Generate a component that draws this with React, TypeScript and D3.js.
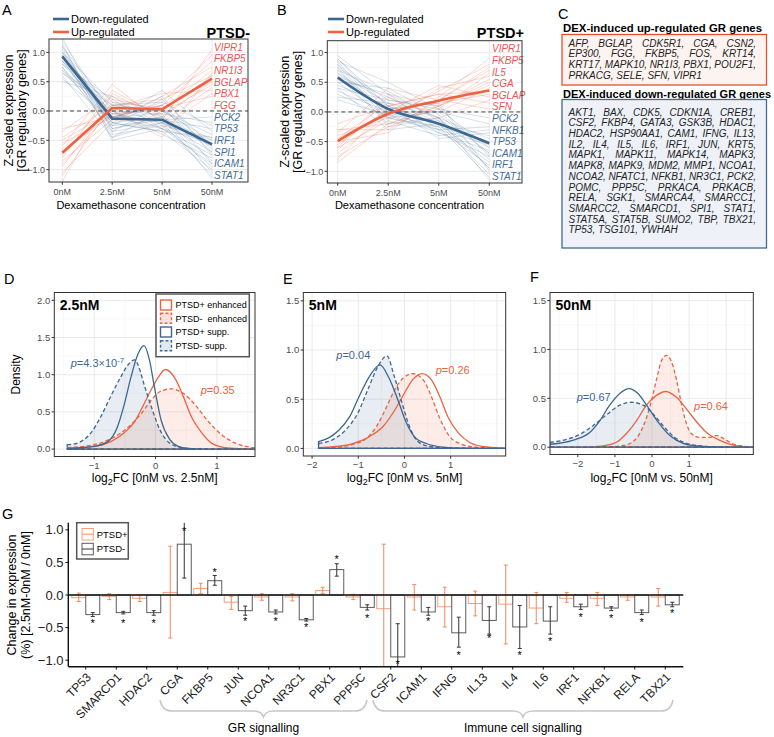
import React from "react";
import * as d3 from "d3";

const FONT = "'Liberation Sans', Arial, Helvetica, sans-serif";
const BLUE = "#3c6792";
const RED = "#ee6241";
const BLUE_LABEL = "#436d98";
const RED_LABEL = "#ec5458";
const GRID = "#e8e8e8";
const GRID_MINOR = "#f3f3f3";
const AXIS_TXT = "#4d4d4d";

// ---------- panels A / B ----------
const doses = ["0nM", "2.5nM", "5nM", "50nM"];

const aDownMean = [0.93, -0.13, -0.15, -0.57];
const aUpMean = [-0.71, 0.05, 0.03, 0.55];
const aUpGenes = ["VIPR1", "FKBP5", "NR1I3", "BGLAP", "PBX1", "FGG"];
const aDownGenes = ["PCK2", "TP53", "IRF1", "SPI1", "ICAM1", "STAT1"];
const aUpThin = [
  [-0.35, 0.25, -0.05, 0.45],
  [-0.45, 0.1, 0.2, 0.6],
  [-0.55, -0.1, 0.1, 0.85],
  [-0.6, 0.45, -0.2, 0.4],
  [-0.65, 0.2, 0.0, 0.7],
  [-0.7, -0.05, 0.05, 0.55],
  [-0.75, 0.05, 0.3, 0.35],
  [-0.8, 0.35, -0.1, 0.5],
  [-0.85, -0.15, 0.15, 0.95],
  [-0.9, 0.0, -0.45, 0.65],
  [-0.95, 0.15, 0.05, 0.25],
  [-1.05, -0.2, 0.25, 0.75],
  [-1.2, 0.3, -0.15, 1.05],
  [-0.5, 0.0, -0.3, 0.3],
  [-0.3, -0.1, 0.1, 0.5],
  [-1.1, 0.1, 0.0, 0.6],
];
const aDownThin = [
  [1.25, -0.35, -0.2, -1.1],
  [1.2, -0.1, 0.1, -0.9],
  [1.15, -0.5, -0.3, -0.75],
  [1.1, 0.0, -0.05, -1.05],
  [1.05, -0.25, 0.2, -0.6],
  [1.0, -0.2, -0.35, -0.45],
  [1.0, 0.15, -0.1, -0.85],
  [0.95, -0.3, -0.15, -0.3],
  [0.95, -0.05, 0.05, -0.7],
  [0.9, -0.4, -0.25, -0.95],
  [0.9, 0.05, -0.2, -0.5],
  [0.85, -0.15, 0.35, -0.35],
  [0.85, -0.2, -0.1, -1.15],
  [0.8, 0.2, -0.3, -0.55],
  [0.8, -0.1, -0.05, -0.2],
  [0.75, -0.35, 0.1, -0.65],
  [0.7, 0.0, -0.4, -0.8],
  [0.7, -0.25, -0.15, -0.1],
  [0.65, 0.1, 0.0, -0.4],
  [0.6, -0.45, -0.2, -0.6],
  [0.55, -0.15, 0.25, -0.75],
  [0.5, 0.25, -0.25, -0.45],
  [1.1, -0.3, -0.1, -0.55],
  [1.0, -0.1, -0.3, -0.9],
  [0.85, 0.1, 0.15, -0.25],
  [0.75, -0.2, -0.35, -1.0],
  [0.95, -0.45, 0.0, -0.5],
  [0.65, -0.05, -0.2, -0.7],
];

const bDownMean = [0.58, 0.05, -0.2, -0.53];
const bUpMean = [-0.49, -0.03, 0.19, 0.36];
const bUpGenes = ["VIPR1", "FKBP5", "IL5", "CGA", "BGLAP", "SFN"];
const bDownGenes = ["PCK2", "NFKB1", "TP53", "ICAM1", "IRF1", "STAT1"];
const bUpThin = [
  [-0.2, 0.1, 0.3, 0.15],
  [-0.3, -0.2, 0.1, 0.55],
  [-0.35, 0.4, 0.2, 0.05],
  [-0.4, -0.1, 0.35, 0.8],
  [-0.45, 0.15, 0.0, 0.4],
  [-0.5, -0.35, 0.25, 0.9],
  [-0.55, 0.05, 0.15, 0.3],
  [-0.6, -0.15, 0.4, 0.6],
  [-0.65, 0.25, -0.1, 0.2],
  [-0.7, -0.05, 0.2, 0.7],
  [-0.75, -0.25, 0.1, 0.45],
  [-0.8, 0.1, 0.3, 0.35],
  [-0.85, -0.2, 0.05, 0.65],
  [-0.45, 0.0, 0.45, 0.25],
  [-0.6, 0.3, 0.1, 0.5],
  [-0.3, -0.3, 0.2, 0.75],
];
const bDownThin = [
  [0.95, 0.3, -0.1, -1.15],
  [0.9, 0.0, -0.3, -0.9],
  [0.85, 0.5, 0.05, -0.6],
  [0.8, 0.1, -0.2, -1.05],
  [0.8, -0.15, -0.4, -0.3],
  [0.75, 0.2, 0.1, -0.75],
  [0.7, -0.05, -0.25, -0.5],
  [0.7, 0.35, -0.15, -0.95],
  [0.65, 0.0, 0.0, -0.2],
  [0.65, 0.15, -0.35, -0.65],
  [0.6, -0.2, -0.1, -0.8],
  [0.6, 0.25, -0.2, -0.4],
  [0.55, 0.05, 0.15, -1.0],
  [0.5, -0.1, -0.3, -0.55],
  [0.5, 0.4, -0.05, -0.7],
  [0.45, 0.1, -0.45, -0.35],
  [0.4, -0.3, -0.2, -0.85],
  [0.4, 0.2, 0.05, -0.1],
  [0.35, 0.0, -0.15, -0.6],
  [0.3, -0.1, -0.25, -1.1],
  [0.25, 0.15, -0.1, -0.45],
  [0.2, -0.05, -0.35, -0.75],
  [0.9, 0.1, -0.2, -0.5],
  [0.75, -0.25, -0.1, -0.95],
  [0.55, 0.3, -0.3, -0.25],
  [0.85, -0.1, 0.0, -0.7],
];

// ---------- panel C ----------
const upGeneRows = [
  "AFP, BGLAP, CDK5R1, CGA, CSN2,",
  "EP300, FGG, FKBP5, FOS, KRT14,",
  "KRT17, MAPK10, NR1I3, PBX1, POU2F1,",
  "PRKACG, SELE, SFN, VIPR1",
];
const downGeneRows = [
  "AKT1, BAX, CDK5, CDKN1A, CREB1,",
  "CSF2, FKBP4, GATA3, GSK3B, HDAC1,",
  "HDAC2, HSP90AA1, CAM1, IFNG, IL13,",
  "IL2, IL4, IL5, IL6, IRF1, JUN, KRT5,",
  "MAPK1, MAPK11, MAPK14, MAPK3,",
  "MAPK8, MAPK9, MDM2, MMP1, NCOA1,",
  "NCOA2, NFATC1, NFKB1, NR3C1, PCK2,",
  "POMC, PPP5C, PRKACA, PRKACB,",
  "RELA, SGK1, SMARCA4, SMARCC1,",
  "SMARCC2, SMARCD1, SPI1, STAT1,",
  "STAT5A, STAT5B, SUMO2, TBP, TBX21,",
  "TP53, TSG101, YWHAH",
];

// ---------- panels D / E / F (density curves, x = log2FC, y = density) ----------
type Pt = [number, number];
const dPlusUp: Pt[] = [[-1.44, 0.01], [-1.0, 0.036], [-0.73, 0.1], [-0.51, 0.22], [-0.34, 0.37], [-0.21, 0.57], [-0.07, 0.8], [0.04, 0.96], [0.16, 1.07], [0.31, 0.96], [0.45, 0.71], [0.58, 0.44], [0.75, 0.22], [0.91, 0.08], [1.13, 0.02], [1.4, 0.005], [1.62, 0]];
const dMinusUp: Pt[] = [[-1.44, 0.02], [-1.0, 0.06], [-0.75, 0.13], [-0.56, 0.22], [-0.4, 0.33], [-0.23, 0.48], [-0.07, 0.66], [0.09, 0.78], [0.26, 0.81], [0.45, 0.75], [0.64, 0.6], [0.86, 0.37], [1.08, 0.19], [1.3, 0.08], [1.51, 0.03], [1.62, 0.015]];
const dPlusDown: Pt[] = [[-1.44, 0.01], [-1.33, 0.013], [-1.0, 0.036], [-0.78, 0.1], [-0.62, 0.3], [-0.51, 0.6], [-0.4, 0.97], [-0.29, 1.27], [-0.19, 1.39], [-0.1, 1.2], [-0.02, 0.84], [0.09, 0.39], [0.23, 0.13], [0.37, 0.036], [0.53, 0.01], [0.8, 0], [1.62, 0]];
const dMinusDown: Pt[] = [[-1.44, 0.06], [-1.41, 0.06], [-1.22, 0.1], [-1.05, 0.22], [-0.89, 0.44], [-0.73, 0.71], [-0.56, 0.98], [-0.45, 1.13], [-0.34, 1.2], [-0.27, 1.1], [-0.21, 0.93], [-0.07, 0.57], [0.07, 0.26], [0.23, 0.08], [0.42, 0.02], [0.64, 0.005], [1.62, 0]];

const ePlusUp: Pt[] = [[-1.86, 0.007], [-1.48, 0.02], [-1.12, 0.05], [-0.76, 0.12], [-0.47, 0.22], [-0.25, 0.36], [-0.04, 0.53], [0.18, 0.7], [0.38, 0.76], [0.58, 0.7], [0.76, 0.53], [0.94, 0.32], [1.16, 0.16], [1.41, 0.06], [1.7, 0.02], [2.13, 0.003], [2.19, 0.002]];
const eMinusUp: Pt[] = [[-1.86, 0.003], [-1.48, 0.013], [-1.12, 0.04], [-0.83, 0.1], [-0.61, 0.22], [-0.4, 0.41], [-0.22, 0.59], [-0.04, 0.71], [0.18, 0.76], [0.4, 0.7], [0.58, 0.53], [0.76, 0.31], [0.98, 0.12], [1.19, 0.05], [1.55, 0.013], [1.99, 0.003], [2.19, 0.001]];
const ePlusDown: Pt[] = [[-1.86, 0.07], [-1.63, 0.11], [-1.41, 0.19], [-1.19, 0.32], [-0.98, 0.53], [-0.76, 0.73], [-0.53, 0.85], [-0.33, 0.71], [-0.14, 0.49], [0.04, 0.26], [0.25, 0.1], [0.47, 0.05], [0.83, 0.014], [1.27, 0.003], [2.19, 0]];
const eMinusDown: Pt[] = [[-1.86, 0.05], [-1.55, 0.09], [-1.27, 0.19], [-1.01, 0.36], [-0.8, 0.59], [-0.58, 0.83], [-0.38, 0.94], [-0.22, 0.73], [-0.07, 0.49], [0.11, 0.22], [0.29, 0.07], [0.54, 0.02], [0.98, 0.003], [2.19, 0]];

const fPlusUp: Pt[] = [[-2.75, 0], [-1.86, 0.001], [-1.32, 0.014], [-0.96, 0.05], [-0.69, 0.14], [-0.42, 0.27], [-0.15, 0.43], [0.12, 0.53], [0.37, 0.57], [0.66, 0.51], [0.93, 0.39], [1.2, 0.26], [1.47, 0.15], [1.83, 0.07], [2.19, 0.02], [2.55, 0.003], [2.73, 0]];
const fMinusUp: Pt[] = [[-2.75, 0], [-1.23, 0.001], [-0.78, 0.017], [-0.47, 0.07], [-0.24, 0.21], [-0.06, 0.41], [0.12, 0.69], [0.25, 0.88], [0.39, 0.94], [0.52, 0.88], [0.66, 0.69], [0.79, 0.45], [0.93, 0.24], [1.06, 0.14], [1.29, 0.1], [1.56, 0.1], [1.74, 0.12], [1.92, 0.09], [2.14, 0.04], [2.46, 0.01], [2.73, 0]];
const fPlusDown: Pt[] = [[-2.75, 0.03], [-2.5, 0.04], [-2.05, 0.08], [-1.68, 0.15], [-1.41, 0.27], [-1.14, 0.43], [-0.87, 0.55], [-0.62, 0.6], [-0.38, 0.55], [-0.11, 0.41], [0.16, 0.26], [0.48, 0.12], [0.84, 0.04], [1.29, 0.01], [1.74, 0.002], [2.73, 0]];
const fMinusDown: Pt[] = [[-2.75, 0.05], [-2.41, 0.07], [-1.95, 0.13], [-1.59, 0.22], [-1.23, 0.33], [-0.87, 0.43], [-0.56, 0.46], [-0.24, 0.43], [0.03, 0.34], [0.3, 0.22], [0.61, 0.1], [0.93, 0.04], [1.38, 0.01], [1.92, 0.002], [2.73, 0]];

// ---------- panel G ----------
const gGenes = ["TP53", "SMARCD1", "HDAC2", "CGA", "FKBP5", "JUN", "NCOA1", "NR3C1", "PBX1", "PPP5C", "CSF2", "ICAM1", "IFNG", "IL13", "IL4", "IL6", "IRF1", "NFKB1", "RELA", "TBX21"];
const plusVal = [-0.04, -0.02, -0.05, 0.04, 0.1, -0.11, -0.03, -0.03, 0.07, -0.03, -0.21, -0.03, -0.18, -0.13, -0.14, -0.2, -0.05, -0.05, -0.03, -0.03];
const plusLo = [-0.1, -0.07, -0.1, -0.66, 0.02, -0.22, -0.08, -0.09, 0.02, -0.07, -1.15, -0.23, -0.49, -0.32, -0.75, -0.44, -0.11, -0.16, -0.08, -0.17];
const plusHi = [0.03, 0.02, 0.0, 0.75, 0.18, -0.02, 0.02, 0.02, 0.12, 0.01, 0.78, 0.16, 0.12, 0.06, 0.46, 0.04, 0.04, 0.04, 0.0, 0.1];
const minusVal = [-0.3, -0.27, -0.27, 0.78, 0.22, -0.24, -0.26, -0.38, 0.39, -0.19, -0.95, -0.26, -0.58, -0.39, -0.49, -0.4, -0.18, -0.2, -0.27, -0.15];
const minusLo = [-0.33, -0.29, -0.31, 0.26, 0.15, -0.31, -0.29, -0.4, 0.29, -0.23, -1.15, -0.31, -0.8, -0.6, -0.82, -0.6, -0.22, -0.24, -0.3, -0.18];
const minusHi = [-0.27, -0.25, -0.24, 1.15, 0.3, -0.17, -0.23, -0.36, 0.48, -0.15, -0.44, -0.19, -0.34, -0.18, -0.16, -0.18, -0.14, -0.18, -0.23, -0.11];
const starY = [-0.41, -0.41, -0.41, 1.0, 0.38, -0.37, -0.37, -0.47, 0.58, -0.33, -1.03, -0.37, -0.89, -0.64, -0.89, -0.68, -0.31, -0.33, -0.39, -0.26];
const gTicks = [-1, -0.5, 0, 0.5, 1];

// ---------------------------------------------------------------------------

function TrendPanel(p: any) {
  const x = d3.scalePoint<string>().domain(doses).range(p.xr);
  const y = d3.scaleLinear().domain(p.yd).range([p.bottom, p.top]);
  const straight = d3.line<number>().x((_, i) => x(doses[i]) as number).y(d => y(d));
  const smooth = d3.line<number>().x((_, i) => x(doses[i]) as number).y(d => y(d)).curve(d3.curveMonotoneX);
  const mainLine = p.smooth ? smooth : straight;
  const genes = [...p.upGenes, ...p.downGenes];
  const gy = d3.scalePoint<number>().domain(d3.range(genes.length)).range([p.top + 8, p.bottom - 6.5]);
  const w = p.right - p.left;
  const h = p.bottom - p.top;
  const clip = "clip-" + p.id;
  const midY = (p.top + p.bottom) / 2;
  return (
    <g>
      <defs>
        <clipPath id={clip}><rect x={p.left} y={p.top} width={w} height={h} /></clipPath>
      </defs>
      <text x={p.letterX} y={15} fontSize={14.5}>{p.letter}</text>
      {/* legend */}
      <line x1={p.legX} x2={p.legX + 16} y1={19} y2={19} stroke={BLUE} strokeWidth={2.6} />
      <text x={p.legX + 18} y={23} fontSize={11}>Down-regulated</text>
      <line x1={p.legX} x2={p.legX + 16} y1={32} y2={32} stroke={RED} strokeWidth={2.6} />
      <text x={p.legX + 18} y={36} fontSize={11}>Up-regulated</text>
      <text x={p.right + 2} y={37.5} fontSize={14.5} fontWeight="bold" textAnchor="end">{p.title}</text>

      <rect x={p.left} y={p.top} width={w} height={h} fill="#fff" />
      <g clipPath={`url(#${clip})`}>
        {[-0.75, -0.25, 0.25, 0.75].map(v => (
          <line key={"mi" + v} x1={p.left} x2={p.right} y1={y(v)} y2={y(v)} stroke={GRID_MINOR} strokeWidth={0.6} />
        ))}
        {[-1, -0.5, 0, 0.5, 1].map(v => (
          <line key={"ma" + v} x1={p.left} x2={p.right} y1={y(v)} y2={y(v)} stroke={GRID} strokeWidth={0.9} />
        ))}
        {doses.map(d => (
          <line key={d} x1={x(d)} x2={x(d)} y1={p.top} y2={p.bottom} stroke={GRID} strokeWidth={0.9} />
        ))}
        {p.upThin.map((s: number[], i: number) => (
          <path key={"u" + i} d={straight(s)!} fill="none" stroke={RED} strokeOpacity={0.3} strokeWidth={0.8} />
        ))}
        {p.downThin.map((s: number[], i: number) => (
          <path key={"d" + i} d={straight(s)!} fill="none" stroke={BLUE} strokeOpacity={0.25} strokeWidth={0.8} />
        ))}
        <line x1={p.left} x2={p.right} y1={y(0)} y2={y(0)} stroke="#333" strokeDasharray="4,3" strokeWidth={0.9} />
        <path d={mainLine(p.down)!} fill="none" stroke={BLUE} strokeWidth={2.6} />
        <path d={mainLine(p.up)!} fill="none" stroke={RED} strokeWidth={2.6} />
      </g>
      {genes.map((g: string, i: number) => (
        <text key={g + i} x={p.labelX} y={gy(i)! + 3.6} fontSize={10} fontStyle="italic"
          fill={i < p.upGenes.length ? RED_LABEL : BLUE_LABEL}>{g}</text>
      ))}
      <rect x={p.left} y={p.top} width={w} height={h} fill="none" stroke="#333" strokeWidth={1} />
      {[-1, -0.5, 0, 0.5, 1].map(v => (
        <g key={"yt" + v}>
          <line x1={p.left - 2.7} x2={p.left} y1={y(v)} y2={y(v)} stroke="#333" />
          <text x={p.left - 4} y={y(v) + 3.2} fontSize={9} textAnchor="end" fill={AXIS_TXT}>{d3.format(".1f")(v)}</text>
        </g>
      ))}
      {doses.map(d => (
        <g key={"xt" + d}>
          <line x1={x(d)} x2={x(d)} y1={p.bottom} y2={p.bottom + 2.7} stroke="#333" />
          <text x={x(d)} y={p.bottom + 13} fontSize={9} textAnchor="middle" fill={AXIS_TXT}>{d}</text>
        </g>
      ))}
      <text x={p.xlabX} y={209} fontSize={11} textAnchor="middle">Dexamethasone concentration</text>
      <text transform={`translate(${p.ylabX},${midY}) rotate(-90)`} fontSize={12.5} textAnchor="middle">
        <tspan x={0} y={0}>Z-scaled expression</tspan>
        <tspan x={0} y={12.5}>[GR regulatory genes]</tspan>
      </text>
    </g>
  );
}

let measureCtx: CanvasRenderingContext2D | null = null;
function textWidth(s: string, font: string) {
  if (!measureCtx) measureCtx = document.createElement("canvas").getContext("2d");
  measureCtx!.font = font;
  return measureCtx!.measureText(s).width;
}

function GeneBox(p: any) {
  const font = `italic 10px ${FONT}`;
  const x0 = 568.5;
  const x1 = 756;
  return (
    <g>
      <text x={563} y={p.titleY} fontSize={11} fontWeight="bold" textLength={p.titleW} lengthAdjust="spacingAndGlyphs">{p.title}</text>
      <rect x={562} y={p.boxY} width={204.5} height={p.boxH} fill={p.fill} stroke={p.stroke} strokeWidth={1.3} />
      {p.rows.map((row: string, i: number) => {
        const yy = p.firstY + i * 10.7;
        if (i === p.rows.length - 1) {
          return <text key={i} x={x0} y={yy} fontSize={10} fontStyle="italic" fill="#222">{row}</text>;
        }
        const words = row.split(" ");
        const ws = words.map(wd => textWidth(wd, font));
        const gap = (x1 - x0 - d3.sum(ws)) / (words.length - 1);
        let cx = x0;
        return (
          <g key={i}>
            {words.map((wd, j) => {
              const el = <text key={j} x={cx} y={yy} fontSize={10} fontStyle="italic" fill="#222">{wd}</text>;
              cx += ws[j] + gap;
              return el;
            })}
          </g>
        );
      })}
    </g>
  );
}

function DensityPanel(p: any) {
  const x = d3.scaleLinear().domain(p.xd).range([p.left, p.right]);
  const y = d3.scaleLinear().domain(p.yd).range([p.bottom, p.top]);
  const area = d3.area<Pt>().x(d => x(d[0])).y0(y(0)).y1(d => y(d[1])).curve(d3.curveMonotoneX);
  const w = p.right - p.left;
  const h = p.bottom - p.top;
  const clip = "clip-" + p.id;
  const xMinor = p.xMajor.slice(0, -1).map((v: number, i: number) => (v + p.xMajor[i + 1]) / 2);
  const yMinor = p.yMajor.slice(0, -1).map((v: number, i: number) => (v + p.yMajor[i + 1]) / 2);
  const curves = [
    { d: p.plusUp, c: RED, dash: null, fill: false },
    { d: p.minusUp, c: RED, dash: "4,2.5", fill: true },
    { d: p.plusDown, c: BLUE, dash: null, fill: false },
    { d: p.minusDown, c: BLUE, dash: "4,2.5", fill: true },
  ];
  return (
    <g>
      <defs>
        <clipPath id={clip}><rect x={p.left} y={p.top} width={w} height={h} /></clipPath>
      </defs>
      <text x={p.letterX} y={p.letterY} fontSize={14.5}>{p.letter}</text>
      <rect x={p.left} y={p.top} width={w} height={h} fill="#fff" />
      <g clipPath={`url(#${clip})`}>
        {xMinor.map((v: number) => <line key={"xm" + v} x1={x(v)} x2={x(v)} y1={p.top} y2={p.bottom} stroke={GRID_MINOR} strokeWidth={0.6} />)}
        {yMinor.map((v: number) => <line key={"ym" + v} x1={p.left} x2={p.right} y1={y(v)} y2={y(v)} stroke={GRID_MINOR} strokeWidth={0.6} />)}
        {p.xMajor.map((v: number) => <line key={"xM" + v} x1={x(v)} x2={x(v)} y1={p.top} y2={p.bottom} stroke={GRID} strokeWidth={0.9} />)}
        {p.yMajor.map((v: number) => <line key={"yM" + v} x1={p.left} x2={p.right} y1={y(v)} y2={y(v)} stroke={GRID} strokeWidth={0.9} />)}
        {curves.filter(c => c.fill).map((c, i) => (
          <path key={"f" + i} d={area(c.d)!} fill={c.c} fillOpacity={0.12} stroke="none" />
        ))}
        {curves.map((c, i) => (
          <path key={"l" + i} d={area(c.d)!} fill="none" stroke={c.c} strokeWidth={1.3}
            strokeDasharray={c.dash || undefined} />
        ))}
      </g>
      <rect x={p.left} y={p.top} width={w} height={h} fill="none" stroke="#333" strokeWidth={1} />
      {p.yMajor.map((v: number) => (
        <g key={"yt" + v}>
          <line x1={p.left - 2.7} x2={p.left} y1={y(v)} y2={y(v)} stroke="#333" />
          <text x={p.left - 4} y={y(v) + 3.3} fontSize={9.5} textAnchor="end" fill={AXIS_TXT}>{d3.format(".1f")(v)}</text>
        </g>
      ))}
      {p.xLabels.map((v: number) => (
        <g key={"xt" + v}>
          <line x1={x(v)} x2={x(v)} y1={p.bottom} y2={p.bottom + 2.7} stroke="#333" />
          <text x={x(v)} y={p.bottom + 12} fontSize={9.5} textAnchor="middle" fill={AXIS_TXT}>{d3.format("d")(v)}</text>
        </g>
      ))}
      <text x={p.left + 5.5} y={310} fontSize={14} fontWeight="bold">{p.title}</text>
      <text x={p.pBlue[0]} y={p.pBlue[1]} fontSize={11} fill={BLUE}>
        <tspan fontStyle="italic">p</tspan>{p.pBlueText}
        {p.pBlueSup ? <tspan dy={-4} fontSize={8}>{p.pBlueSup}</tspan> : null}
      </text>
      <text x={p.pRed[0]} y={p.pRed[1]} fontSize={11} fill={RED}>
        <tspan fontStyle="italic">p</tspan>{p.pRedText}
      </text>
      <text x={(p.left + p.right) / 2} y={482} fontSize={12} textAnchor="middle">
        log<tspan dy={3} fontSize={9}>2</tspan><tspan dy={-3}>{"FC [0nM vs. " + p.dose + "]"}</tspan>
      </text>
    </g>
  );
}

function DensityLegend() {
  const items = [
    { t: "PTSD+ enhanced", c: RED, dash: null, fill: "#fff" },
    { t: "PTSD-\u00a0 enhanced", c: RED, dash: "3,2", fill: "#fbe1d9" },
    { t: "PTSD+ supp.", c: BLUE, dash: null, fill: "#fff" },
    { t: "PTSD- supp.", c: BLUE, dash: "3,2", fill: "#e1e8f0" },
  ];
  const rows = [305, 318.3, 332, 345.8];
  return (
    <g>
      <rect x={156} y={294} width={93.3} height={62.7} fill="#fff" stroke="#555" strokeWidth={1.5} />
      {items.map((it, i) => (
        <g key={it.t}>
          <rect x={160.5} y={rows[i] - 5} width={11} height={10} fill={it.fill} stroke={it.c} strokeWidth={1.4}
            strokeDasharray={it.dash || undefined} />
          <text x={175.5} y={rows[i] + 3.3} fontSize={9}>{it.t}</text>
        </g>
      ))}
    </g>
  );
}

function BarPanel() {
  const x = d3.scaleBand<string>().domain(gGenes).range([70.5, 680.5]);
  const y = d3.scaleLinear().domain([-1.1, 1.11]).range([666.7, 522.7]);
  const bw = 14;
  const c = (g: string) => (x(g) as number) + x.bandwidth() / 2;
  const ORANGE = "#f4a07c";
  const ORANGE_ERR = "#f08a5e";
  const GREY = "#5c5c5c";
  const err = (cx: number, lo: number, hi: number, col: string, k: string) => (
    <g key={k} stroke={col} strokeWidth={1}>
      <line x1={cx} x2={cx} y1={y(lo)} y2={y(hi)} />
      <line x1={cx - 2} x2={cx + 2} y1={y(lo)} y2={y(lo)} />
      <line x1={cx - 2} x2={cx + 2} y1={y(hi)} y2={y(hi)} />
    </g>
  );
  const brace = (a: number, b: number) => {
    const m = (a + b) / 2;
    return `M${a},700 Q${a + 2},711 ${a + 12},711 L${m - 10},711 Q${m - 2},711 ${m},717 Q${m + 2},711 ${m + 10},711 L${b - 12},711 Q${b - 2},711 ${b},700`;
  };
  return (
    <g>
      <defs>
        <clipPath id="clip-g"><rect x={68.3} y={522.7} width={615} height={144} /></clipPath>
      </defs>
      <text x={2} y={519} fontSize={14.5}>G</text>
      <g clipPath="url(#clip-g)">
        {gGenes.map((g, i) => (
          <g key={g}>
            <rect x={c(g) - bw} y={y(Math.max(0, plusVal[i]))} width={bw} height={Math.abs(y(plusVal[i]) - y(0))}
              fill="#fff" stroke={ORANGE} strokeWidth={1} />
            <rect x={c(g)} y={y(Math.max(0, minusVal[i]))} width={bw} height={Math.abs(y(minusVal[i]) - y(0))}
              fill="#fff" stroke={GREY} strokeWidth={1} />
          </g>
        ))}
        {gGenes.map((g, i) => err(c(g) - bw / 2, plusLo[i], plusHi[i], ORANGE_ERR, "pe" + g))}
        {gGenes.map((g, i) => err(c(g) + bw / 2, minusLo[i], minusHi[i], "#333", "me" + g))}
      </g>
      <line x1={68.3} x2={683.3} y1={y(0)} y2={y(0)} stroke="#111" strokeWidth={1.6} />
      {gGenes.map((g, i) => (
        <text key={"s" + g} x={c(g) + bw / 2} y={y(starY[i]) + 5.5} fontSize={11} textAnchor="middle">*</text>
      ))}
      <line x1={68.3} x2={68.3} y1={522.7} y2={666.7} stroke="#111" strokeWidth={1.4} />
      <line x1={68.3} x2={683.3} y1={666.7} y2={666.7} stroke="#111" strokeWidth={1.4} />
      {gTicks.map(v => (
        <g key={"gy" + v}>
          <line x1={65.5} x2={68.3} y1={y(v)} y2={y(v)} stroke="#111" />
          <text x={63.5} y={y(v) + 4.5} fontSize={13} textAnchor="end" fill="#222">{d3.format(".1f")(v)}</text>
        </g>
      ))}
      {gGenes.map(g => (
        <g key={"gx" + g}>
          <line x1={c(g)} x2={c(g)} y1={666.7} y2={669.5} stroke="#111" />
          <text transform={`translate(${c(g) + 3},${675}) rotate(-45)`} fontSize={12} textAnchor="end" dy="0.35em" fill="#222">{g}</text>
        </g>
      ))}
      <text transform={`translate(16,595) rotate(-90)`} fontSize={12.5} textAnchor="middle">
        <tspan x={0} y={0}>Change in expression</tspan>
        <tspan x={0} y={14}>(%) [2.5nM-0nM / 0nM]</tspan>
      </text>
      {/* legend */}
      <rect x={76.7} y={522.7} width={51.6} height={36.3} fill="#fff" stroke="#555" strokeWidth={1.5} />
      <rect x={82} y={528.5} width={11.3} height={11.5} fill="#fff" stroke={ORANGE} strokeWidth={1} />
      <line x1={82} x2={93.3} y1={534.2} y2={534.2} stroke={ORANGE_ERR} strokeWidth={1} />
      <text x={96.7} y={537.5} fontSize={9.5}>PTSD+</text>
      <rect x={82} y={543.3} width={11.3} height={11.5} fill="#fff" stroke={GREY} strokeWidth={1} />
      <line x1={82} x2={93.3} y1={549} y2={549} stroke="#333" strokeWidth={1} />
      <text x={96.7} y={552.3} fontSize={9.5}>PTSD-</text>
      {/* group braces */}
      <path d={brace(160, 367)} fill="none" stroke="#c8c8c8" strokeWidth={1.5} />
      <path d={brace(373, 673)} fill="none" stroke="#c8c8c8" strokeWidth={1.5} />
      <text x={263.5} y={732} fontSize={12} textAnchor="middle">GR signalling</text>
      <text x={523} y={732} fontSize={12} textAnchor="middle">Immune cell signalling</text>
    </g>
  );
}

export default function App() {
  return (
    <svg width={774} height={737} viewBox="0 0 774 737" fontFamily={FONT}
      style={{ position: "absolute", left: 0, top: 0, background: "#fff" }}>
      <rect width={774} height={737} fill="#fff" />
      <TrendPanel id="a" letter="A" letterX={2} legX={53} title="PTSD-" left={49} right={248} top={39} bottom={182}
        xr={[62.3, 212]} yd={[-1.21, 1.227]} down={aDownMean} up={aUpMean} downThin={aDownThin} upThin={aUpThin}
        upGenes={aUpGenes} downGenes={aDownGenes} labelX={214} smooth={false} xlabX={131} ylabX={13} />
      <TrendPanel id="b" letter="B" letterX={277} legX={328} title="PTSD+" left={327.3} right={522} top={40.7} bottom={183}
        xr={[337.7, 489.3]} yd={[-1.197, 1.2]} down={bDownMean} up={bUpMean} downThin={bDownThin} upThin={bUpThin}
        upGenes={bUpGenes} downGenes={bDownGenes} labelX={492} smooth={true} xlabX={409.5} ylabX={289} />

      <text x={558} y={18.5} fontSize={14.5}>C</text>
      <GeneBox title="DEX-induced up-regulated GR genes" titleY={32} titleW={199} boxY={34.5} boxH={50.5}
        fill="#fdf4f1" stroke="#e5512f" rows={upGeneRows} firstY={46.6} />
      <GeneBox title="DEX-induced down-regulated GR genes" titleY={97.5} titleW={208} boxY={99.5} boxH={148.5}
        fill="#eef2f8" stroke="#3f6a94" rows={downGeneRows} firstY={115.6} />

      <DensityPanel id="d" letter="D" letterX={4} letterY={283.5} left={54.3} right={255} top={292.5} bottom={456.5}
        xd={[-1.65, 1.62]} yd={[-0.1, 2.105]} xMajor={[-2, -1, 0, 1, 2]} xLabels={[-1, 0, 1]} yMajor={[0, 0.5, 1, 1.5, 2]}
        plusUp={dPlusUp} minusUp={dMinusUp} plusDown={dPlusDown} minusDown={dMinusDown}
        title="2.5nM" dose="2.5nM" pBlue={[70.7, 367]} pBlueText="=4.3×10" pBlueSup="-7" pRed={[200.7, 394]} pRedText="=0.35" />
      <DensityLegend />
      <text transform="translate(20,374.5) rotate(-90)" fontSize={12} textAnchor="middle">Density</text>
      <DensityPanel id="e" letter="E" letterX={283} letterY={283.5} left={303.3} right={505.7} top={292.5} bottom={456}
        xd={[-2.19, 2.19]} yd={[-0.077, 1.585]} xMajor={[-3, -2, -1, 0, 1, 2, 3]} xLabels={[-2, -1, 0, 1]} yMajor={[0, 0.5, 1, 1.5]}
        plusUp={ePlusUp} minusUp={eMinusUp} plusDown={ePlusDown} minusDown={eMinusDown}
        title="5nM" dose="5nM" pBlue={[336.3, 359]} pBlueText="=0.04" pRed={[435.7, 374]} pRedText="=0.26" />
      <DensityPanel id="f" letter="F" letterX={530} letterY={282} left={550} right={753.3} top={292.5} bottom={454.5}
        xd={[-2.75, 2.73]} yd={[-0.075, 1.583]} xMajor={[-3, -2, -1, 0, 1, 2, 3]} xLabels={[-2, -1, 0, 1]} yMajor={[0, 0.5, 1, 1.5]}
        plusUp={fPlusUp} minusUp={fMinusUp} plusDown={fPlusDown} minusDown={fMinusDown}
        title="50nM" dose="50nM" pBlue={[576.7, 401]} pBlueText="=0.67" pRed={[694, 410]} pRedText="=0.64" />

      <BarPanel />
    </svg>
  );
}
